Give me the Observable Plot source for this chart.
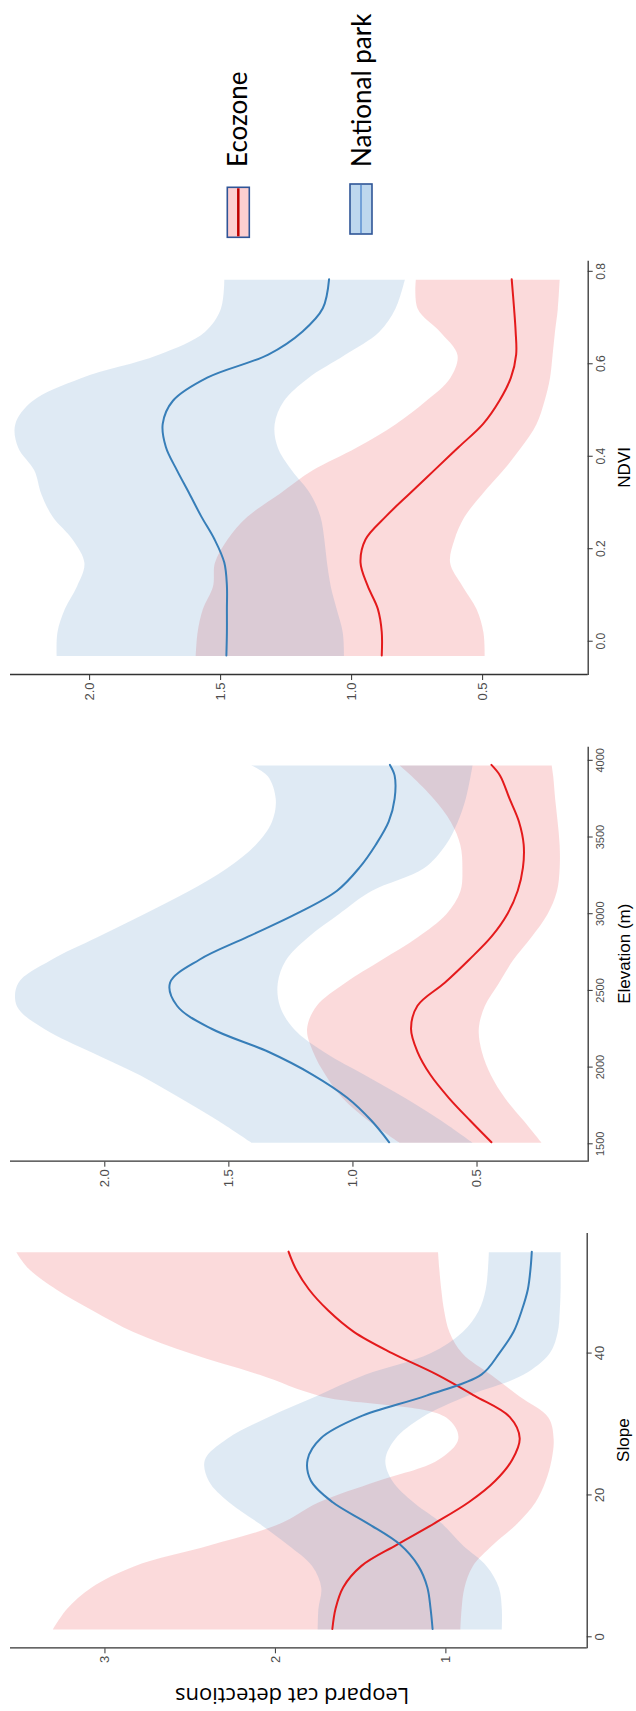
<!DOCTYPE html>
<html>
<head>
<meta charset="utf-8">
<script src="https://cdn.jsdelivr.net/npm/d3@7"></script>
<script src="https://cdn.jsdelivr.net/npm/@observablehq/plot@0.6"></script>
<style>
  html, body { margin: 0; padding: 0; background: #fff; }
  body { width: 636px; height: 1711px; overflow: hidden; position: relative; }
  /* the figure is laid out landscape and turned a quarter turn */
  #figure {
    position: absolute; left: 0; top: 0;
    width: 1711px; height: 636px;
    transform-origin: 0 0;
    transform: translate(0px, 1711px) rotate(-90deg);
  }
  #figure > * { position: absolute; top: 0; }
</style>
</head>
<body>
<div id="figure"></div>
<script>
// ---- Slope ----
const slopeX      = [1.1, 4, 7, 10, 13, 16, 19, 22, 25, 28, 31, 34, 37, 40, 43, 46, 49, 52, 54.3];
const slopeEcoFit = [1.666, 1.647, 1.602, 1.495, 1.286, 1.067, 0.864, 0.71, 0.61, 0.567, 0.626, 0.833, 1.055, 1.316, 1.54, 1.69, 1.804, 1.883, 1.923];
const slopeEcoLo  = [0.912, 0.905, 0.888, 0.84, 0.722, 0.579, 0.472, 0.412, 0.377, 0.365, 0.396, 0.567, 0.733, 0.90, 0.976, 1.007, 1.024, 1.036, 1.043];
const slopeEcoHi  = [3.303, 3.22, 3.077, 2.827, 2.375, 1.971, 1.745, 1.40, 1.043, 0.924, 0.995, 1.733, 2.09, 2.494, 2.827, 3.065, 3.28, 3.446, 3.517];
const slopeNpFit  = [1.078, 1.09, 1.109, 1.162, 1.269, 1.459, 1.666, 1.792, 1.811, 1.733, 1.507, 1.114, 0.79, 0.686, 0.603, 0.555, 0.519, 0.503, 0.496];
const slopeNpLo   = [0.669, 0.669, 0.686, 0.757, 0.90, 1.019, 1.186, 1.31, 1.352, 1.293, 1.138, 0.876, 0.543, 0.389, 0.341, 0.329, 0.324, 0.324, 0.324];
const slopeNpHi   = [1.749, 1.745, 1.728, 1.78, 1.923, 2.09, 2.268, 2.387, 2.411, 2.28, 2.042, 1.757, 1.471, 1.09, 0.90, 0.805, 0.764, 0.75, 0.745];

// ---- Elevation (m) ----
const elevX      = [1510, 1650, 1800, 1950, 2100, 2250, 2400, 2550, 2700, 2850, 3000, 3150, 3300, 3450, 3600, 3750, 3900, 3970];
const elevEcoFit = [0.442, 0.527, 0.614, 0.688, 0.740, 0.766, 0.740, 0.630, 0.532, 0.442, 0.377, 0.336, 0.315, 0.312, 0.331, 0.369, 0.407, 0.442];
const elevEcoLo  = [0.238, 0.308, 0.385, 0.442, 0.478, 0.491, 0.467, 0.410, 0.353, 0.279, 0.214, 0.176, 0.165, 0.165, 0.173, 0.183, 0.191, 0.197];
const elevEcoHi  = [0.810, 0.933, 1.039, 1.108, 1.158, 1.183, 1.145, 1.031, 0.884, 0.737, 0.622, 0.565, 0.557, 0.565, 0.603, 0.671, 0.761, 0.810];
const elevNpFit  = [0.854, 0.925, 1.023, 1.162, 1.341, 1.570, 1.709, 1.737, 1.619, 1.423, 1.227, 1.064, 0.974, 0.908, 0.856, 0.832, 0.832, 0.851];
const elevNpLo   = [0.516, 0.639, 0.786, 0.949, 1.113, 1.235, 1.292, 1.301, 1.268, 1.178, 1.055, 0.925, 0.712, 0.625, 0.576, 0.544, 0.524, 0.516];
const elevNpHi   = [1.407, 1.538, 1.693, 1.856, 2.052, 2.240, 2.352, 2.347, 2.216, 2.028, 1.840, 1.660, 1.505, 1.391, 1.325, 1.309, 1.341, 1.407];

// ---- NDVI ----
const ndviX      = [-0.031, 0.02, 0.07, 0.12, 0.17, 0.22, 0.27, 0.32, 0.37, 0.42, 0.47, 0.52, 0.57, 0.62, 0.67, 0.72, 0.783];
const ndviEcoFit = [0.885, 0.885, 0.900, 0.939, 0.966, 0.947, 0.869, 0.777, 0.684, 0.591, 0.498, 0.436, 0.392, 0.372, 0.374, 0.380, 0.389];
const ndviEcoLo  = [0.490, 0.495, 0.521, 0.575, 0.622, 0.606, 0.567, 0.498, 0.420, 0.351, 0.293, 0.262, 0.241, 0.231, 0.222, 0.211, 0.204];
const ndviEcoHi  = [1.593, 1.586, 1.566, 1.527, 1.520, 1.473, 1.396, 1.272, 1.148, 0.978, 0.831, 0.715, 0.622, 0.594, 0.660, 0.746, 0.753];
const ndviNpFit  = [1.478, 1.476, 1.476, 1.476, 1.486, 1.523, 1.574, 1.620, 1.667, 1.709, 1.721, 1.682, 1.551, 1.318, 1.187, 1.110, 1.086];
const ndviNpLo   = [1.027, 1.032, 1.055, 1.078, 1.092, 1.102, 1.117, 1.156, 1.226, 1.280, 1.292, 1.257, 1.164, 1.024, 0.893, 0.831, 0.795];
const ndviNpHi   = [2.124, 2.121, 2.093, 2.046, 2.018, 2.062, 2.139, 2.183, 2.209, 2.271, 2.282, 2.217, 2.031, 1.737, 1.558, 1.497, 1.484];

// ---- tick labels ----
const slopeTicks = [0, 20, 40];
const slopeYTicks = [1, 2, 3];
const elevTicks = [1500, 2000, 2500, 3000, 3500, 4000];
const ndviTicks = [0, 0.2, 0.4, 0.6, 0.8];
const rateTicks = [0.5, 1.0, 1.5, 2.0];

const groups = ["Ecozone", "National park"];
const groupColor = {"Ecozone": "#E41A1C", "National park": "#377EB8"};
const yTitle = "Leopard cat detections";

const H = 636;
const tickGray = "#4D4D4D";
const axisInk = "#333333";

function rows(xs, fit, lo, hi) {
  return xs.map((x, i) => ({x, fit: fit[i], lo: lo[i], hi: hi[i]}));
}

function panel(o) {
  const bands = [];
  const lines = [];
  o.series.forEach((s, i) => {
    const col = groupColor[groups[i]];
    bands.push(Plot.areaY(s, {x: "x", y1: "lo", y2: "hi", fill: col, fillOpacity: 0.16, curve: "catmull-rom"}));
    lines.push(Plot.lineY(s, {x: "x", y: "fit", stroke: col, strokeWidth: 2, curve: "catmull-rom"}));
  });
  const marks = [
    ...bands,
    ...lines,
    Plot.ruleX([o.xDomain[0]], {stroke: axisInk, strokeWidth: 1.3}),
    Plot.ruleY([o.yDomain[0]], {stroke: axisInk, strokeWidth: 1.3}),
    Plot.axisX({ticks: o.xTicks, tickFormat: o.xFormat, tickSize: 5, tickPadding: 3,
      stroke: axisInk, fill: tickGray, fontSize: o.xFont, label: null}),
    Plot.axisY({ticks: o.yTicks, tickFormat: o.yFormat, tickSize: 5, tickPadding: 3,
      stroke: axisInk, fill: tickGray, fontSize: 13, label: null}),
    Plot.text([o.title], {frameAnchor: "bottom", dy: 36, lineAnchor: "middle",
      fontSize: 17, fill: "#000", fontFamily: "Liberation Sans, Arial, sans-serif"})
  ];
  if (o.yTitle) {
    marks.push(Plot.text([o.yTitle], {frameAnchor: "left", textAnchor: "middle", rotate: -90,
      dx: -47.7, dy: -6.7, lineAnchor: "middle", fontSize: 22, fill: "#000",
      fontFamily: "Open Sans, sans-serif"}));
  }
  const svg = Plot.plot({
    width: o.width, height: H,
    marginLeft: o.marginLeft, marginRight: o.marginRight,
    marginTop: 10, marginBottom: o.marginBottom,
    x: {domain: o.xDomain},
    y: {domain: o.yDomain},
    style: {fontFamily: "Liberation Sans, Arial, sans-serif", fontSize: "13px", background: "transparent", overflow: "visible"},
    marks
  });
  svg.style.left = o.left + "px";
  return svg;
}

const fig = document.getElementById("figure");

fig.appendChild(panel({
  left: 0, width: 490, marginLeft: 62.7, marginRight: 12, marginBottom: 49.3,
  xDomain: [-1.55, 57.0], yDomain: [0.171, 3.554],
  xTicks: slopeTicks, yTicks: slopeYTicks, xFormat: d3.format("d"), yFormat: d3.format("d"),
  xFont: 13, title: "Slope", yTitle,
  series: [rows(slopeX, slopeEcoFit, slopeEcoLo, slopeEcoHi), rows(slopeX, slopeNpFit, slopeNpLo, slopeNpHi)]
}));

fig.appendChild(panel({
  left: 490, width: 490, marginLeft: 59.3, marginRight: 15.7, marginBottom: 48.3,
  xDomain: [1386.6, 4092], yDomain: [0.052, 2.380],
  xTicks: elevTicks, yTicks: rateTicks, xFormat: d3.format("d"), yFormat: d3.format(".1f"),
  xFont: 11, title: "Elevation (m)",
  series: [rows(elevX, elevEcoFit, elevEcoLo, elevEcoHi), rows(elevX, elevNpFit, elevNpLo, elevNpHi)]
}));

fig.appendChild(panel({
  left: 980, width: 490, marginLeft: 56, marginRight: 19.7, marginBottom: 48.3,
  xDomain: [-0.072, 0.824], yDomain: [0.097, 2.302],
  xTicks: ndviTicks, yTicks: rateTicks, xFormat: d3.format(".1f"), yFormat: d3.format(".1f"),
  xFont: 12, title: "NDVI",
  series: [rows(ndviX, ndviEcoFit, ndviEcoLo, ndviEcoHi), rows(ndviX, ndviNpFit, ndviNpLo, ndviNpHi)]
}));

// Legend: a key box per group with its line through the middle, and the group name
const NS = "http://www.w3.org/2000/svg";
const legend = document.createElementNS(NS, "svg");
legend.setAttribute("width", 241);
legend.setAttribute("height", H);
legend.style.left = "1470px";
const keys = [
  {name: groups[0], x: 3.7, y: 227.3, fill: "#FDCFD0", line: "#C00000", lineW: 2.5, ty: 246.5},
  {name: groups[1], x: 7, y: 350, fill: "#BDD7EE", line: "#5B8FD0", lineW: 1.5, ty: 371}
];
keys.forEach(k => {
  const r = document.createElementNS(NS, "rect");
  r.setAttribute("x", k.x); r.setAttribute("y", k.y);
  r.setAttribute("width", 50); r.setAttribute("height", 22);
  r.setAttribute("fill", k.fill); r.setAttribute("stroke", "#2F5597"); r.setAttribute("stroke-width", 1.6);
  legend.appendChild(r);
  const l = document.createElementNS(NS, "line");
  l.setAttribute("x1", k.x + 1); l.setAttribute("x2", k.x + 49);
  l.setAttribute("y1", k.y + 11); l.setAttribute("y2", k.y + 11);
  l.setAttribute("stroke", k.line); l.setAttribute("stroke-width", k.lineW);
  legend.appendChild(l);
  const t = document.createElementNS(NS, "text");
  t.setAttribute("x", 74); t.setAttribute("y", k.ty);
  t.setAttribute("font-family", "Lato, sans-serif");
  t.setAttribute("font-size", 26);
  t.setAttribute("fill", "#000");
  t.textContent = k.name;
  legend.appendChild(t);
});
fig.appendChild(legend);
</script>
</body>
</html>
